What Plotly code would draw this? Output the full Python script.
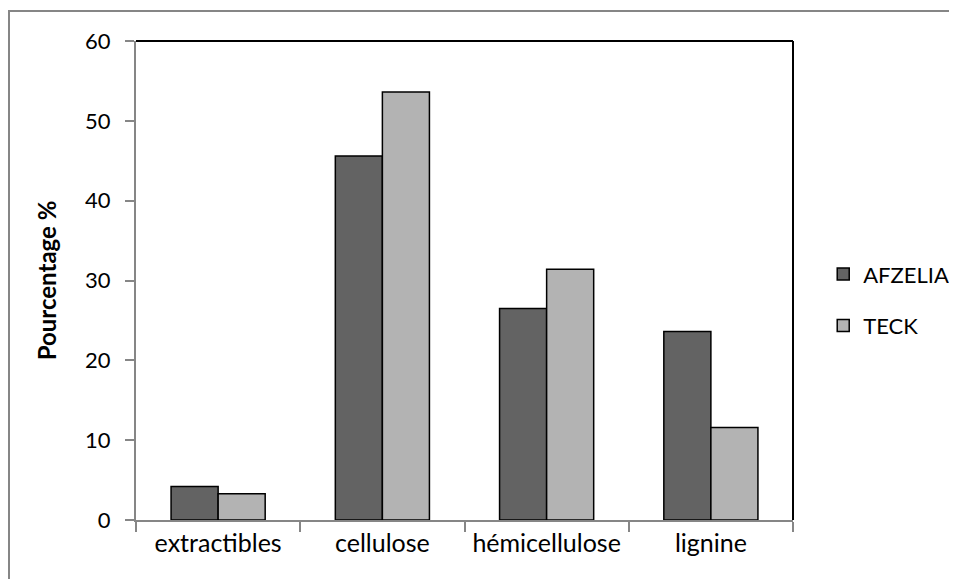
import plotly.graph_objects as go

categories = ["extractibles", "cellulose", "hémicellulose", "lignine"]
afzelia = [4.2, 45.6, 26.5, 23.6]
teck = [3.3, 53.6, 31.4, 11.6]
series_names = ["AFZELIA", "TECK"]
y_ticks = [0, 10, 20, 30, 40, 50, 60]

FONT = "Lato"
AXIS_GRAY = "#868686"

# page body has an 8px margin, so the figure is sized/positioned accordingly
W, H = 980, 571
L, R, T, B = 128, 195, 33, 59
PW, PH = W - L - R, H - T - B

fig = go.Figure()
fig.add_trace(go.Bar(
    x=categories, y=afzelia, name=series_names[0], legendgroup="a",
    marker=dict(color="#636363", line=dict(color="black", width=1.5)),
))
fig.add_trace(go.Bar(
    x=categories, y=teck, name=series_names[1], legendgroup="b",
    marker=dict(color="#b3b3b3", line=dict(color="black", width=1.5)),
))

fig.update_layout(
    width=W, height=H,
    margin=dict(l=L, r=R, t=T, b=B),
    paper_bgcolor="white", plot_bgcolor="white",
    barmode="group", bargap=0.427, bargroupgap=0,
    font=dict(family=FONT, size=22, color="black"),
    showlegend=True,
    legend=dict(
        x=1.046, y=0.459, xanchor="left", yanchor="middle",
        font=dict(family=FONT, size=22, color="black"),
        traceorder="grouped", tracegroupgap=20,
        bgcolor="rgba(0,0,0,0)", itemwidth=30,
    ),
    xaxis=dict(
        showline=True, linecolor=AXIS_GRAY, linewidth=2,
        ticks="outside", tickson="boundaries", ticklen=10, tickcolor=AXIS_GRAY, tickwidth=2,
        tickfont=dict(family=FONT, size=25, color="black"),
        showgrid=False, zeroline=False, automargin=False,
    ),
    yaxis=dict(
        range=[0, 60], tickvals=y_ticks, ticktext=[str(v) for v in y_ticks],
        showline=True, linecolor=AXIS_GRAY, linewidth=2,
        ticks="outside", ticklen=9, tickcolor=AXIS_GRAY, tickwidth=2,
        ticklabelstandoff=10,
        tickfont=dict(family=FONT, size=22, color="black"),
        showgrid=False, zeroline=False, automargin=False,
        title=dict(text="<b>Pourcentage %</b>", font=dict(family=FONT, size=24, color="black"), standoff=22),
    ),
    shapes=[
        # plot-area border (top and right in black)
        dict(type="line", xref="paper", yref="paper", x0=0, x1=1, y0=1, y1=1,
             line=dict(color="black", width=2), layer="below"),
        dict(type="line", xref="paper", yref="paper", x0=1, x1=1, y0=0, y1=1,
             line=dict(color="black", width=2), layer="below"),
        # outer chart frame
        dict(type="rect", xref="paper", yref="paper",
             x0=(1 - L) / PW, x1=(1000 - L) / PW,
             y0=-(B + 40) / PH, y1=1 + (T - 3) / PH,
             line=dict(color=AXIS_GRAY, width=2), layer="below"),
    ],
)

fig.write_html("out.html")
